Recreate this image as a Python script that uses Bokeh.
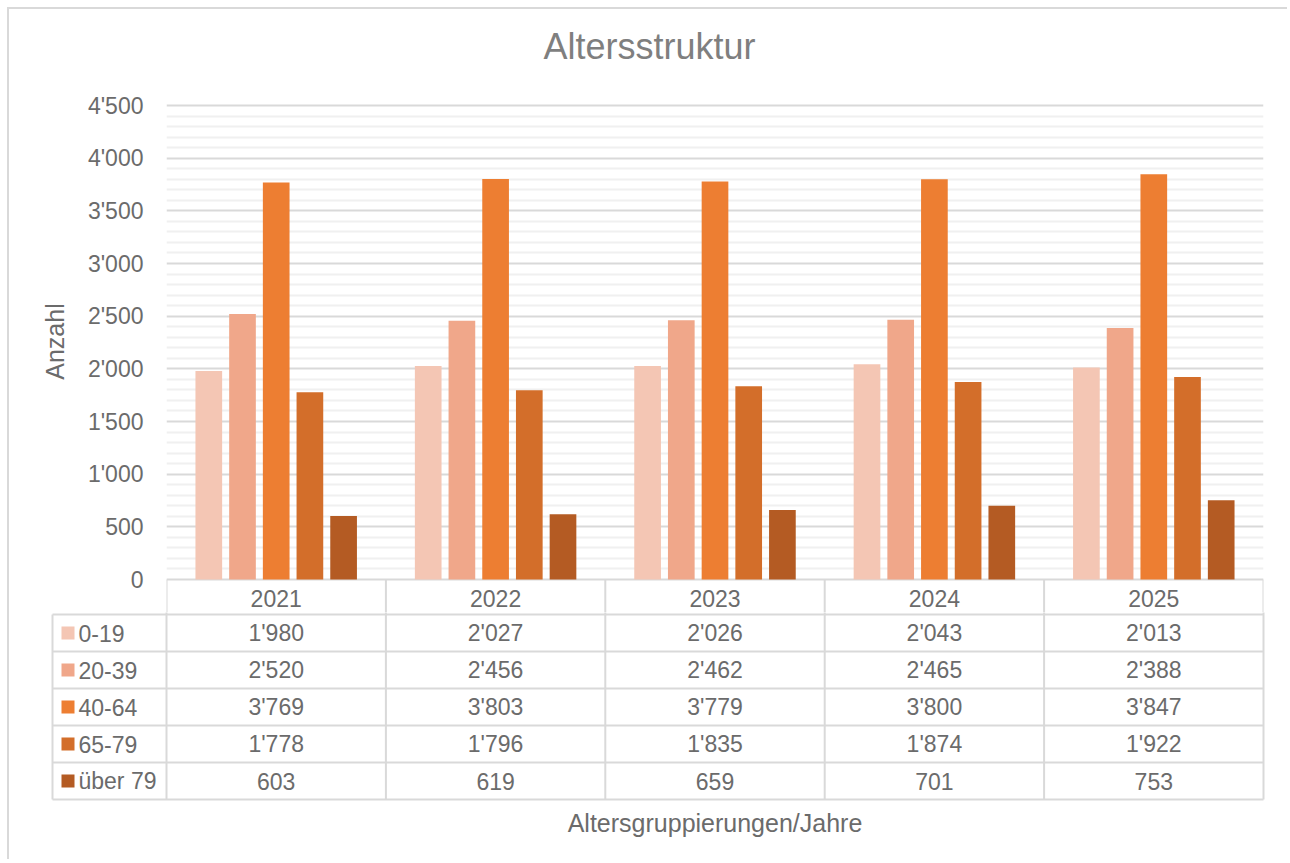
from bokeh.plotting import figure
from bokeh.models import Range1d, FactorRange, FixedTicker, Title, ColumnDataSource
from bokeh.transform import dodge
from bokeh.core.properties import value
from bokeh.embed import file_html
from bokeh.resources import INLINE

# ---------------- data ----------------
title = "Altersstruktur"
years = ["2021", "2022", "2023", "2024", "2025"]
groups = ["0-19", "20-39", "40-64", "65-79", "über 79"]
age_0_19 = [1980, 2027, 2026, 2043, 2013]
age_20_39 = [2520, 2456, 2462, 2465, 2388]
age_40_64 = [3769, 3803, 3779, 3800, 3847]
age_65_79 = [1778, 1796, 1835, 1874, 1922]
age_80_plus = [603, 619, 659, 701, 753]
series = [age_0_19, age_20_39, age_40_64, age_65_79, age_80_plus]
colors = ["#F4C6B4", "#F0A78A", "#ED7E32", "#D36E2A", "#B45B23"]
y_ticks = [0, 500, 1000, 1500, 2000, 2500, 3000, 3500, 4000, 4500]
y_tick_labels = ["0", "500", "1'000", "1'500", "2'000", "2'500", "3'000", "3'500", "4'000", "4'500"]
y_minor = [v for v in range(100, 4500, 100) if v % 500]

FONT = "Liberation Sans"
TXT = "#6b6b6b"
GRID = "#d9d9d9"
BORDER = "2px solid #d9d9d9"
W = 1280
UPX = 4500 / 474  # data units per pixel in the bar area
px = 219.4        # pixels per category column


def fmt(v):
    return f"{v:,}".replace(",", "'")


# ---------------- bar chart (with year header row) ----------------
top = figure(width=W, height=605,
             x_range=FactorRange(*years, range_padding=0),
             y_range=Range1d(-35 * UPX, 4500 + 37 * UPX),
             x_axis_location=None,
             output_backend="svg", toolbar_location=None,
             min_border_left=157, min_border_right=26,
             min_border_top=59, min_border_bottom=0,
             outline_line_color=None,
             styles={"margin": "7px 0 0 7px", "border-top": BORDER,
                     "border-left": BORDER})
top.title = Title(text=title, align="left", offset=377, standoff=4,
                  text_font=FONT, text_font_size="36px", text_font_style="normal",
                  text_color="#7f7f7f")

ticker = FixedTicker(ticks=y_ticks, minor_ticks=y_minor)
ax = top.yaxis[0]
ax.ticker = ticker
ax.major_label_overrides = dict(zip(y_ticks, y_tick_labels))
ax.axis_line_color = None
ax.major_tick_line_color = None
ax.minor_tick_line_color = None
ax.major_label_standoff = 17
ax.major_label_text_font = FONT
ax.major_label_text_font_size = "23px"
ax.major_label_text_color = TXT
ax.axis_label = "Anzahl"
ax.axis_label_text_font = FONT
ax.axis_label_text_font_size = "25px"
ax.axis_label_text_font_style = "normal"
ax.axis_label_text_color = TXT
ax.axis_label_standoff = 16

top.xgrid.visible = False
top.ygrid.ticker = ticker
top.ygrid.grid_line_color = GRID
top.ygrid.grid_line_width = 2
top.ygrid.minor_grid_line_color = "#f0f0f0"
top.ygrid.minor_grid_line_width = 2

src = ColumnDataSource(dict(year=years, **{f"s{k}": s for k, s in enumerate(series)}))
pitch = 0.1536
bw = 0.1216
for k, g in enumerate(groups):
    top.vbar(x=dodge("year", (k - 2) * pitch, range=top.x_range), top=f"s{k}",
             width=bw, source=src, fill_color=colors[k], line_color=None)

n = len(years)
m = len(groups)
# year header row: column separators and year labels
top.segment(x0=list(range(n + 1)), y0=[0] * (n + 1), x1=list(range(n + 1)),
            y1=[-40 * UPX] * (n + 1), line_color=GRID, line_width=2)
top.text(x=years, y=[-18.5 * UPX] * n, text=years,
         text_align="center", text_baseline="middle",
         text_font=value(FONT), text_font_size="23px", text_color=TXT)

# ---------------- data table ----------------
left = -114 / px
bot = figure(width=W, height=247,
             x_range=Range1d(left - 2 / px, 5 + 2 / px),
             y_range=Range1d(282 / 37, 35 / 37),
             x_axis_location=None, y_axis_location=None,
             output_backend="svg", toolbar_location=None,
             min_border_left=41, min_border_right=24,
             min_border_top=0, min_border_bottom=0,
             outline_line_color=None,
             styles={"margin": "0 0 0 7px", "border-left": BORDER})
bot.grid.visible = False

x0, y0, x1, y1 = [], [], [], []
for r in range(1, m + 2):
    x0.append(left); x1.append(n); y0.append(r); y1.append(r)
for c in range(n + 1):
    x0.append(c); x1.append(c); y0.append(0.5); y1.append(m + 1)
x0.append(left); x1.append(left); y0.append(1); y1.append(m + 1)
bot.segment(x0=x0, y0=y0, x1=x1, y1=y1, line_color=GRID, line_width=2)

tx, ty, tt = [], [], []
for k, s in enumerate(series):
    for i, v in enumerate(s):
        tx.append(i + 0.5); ty.append(k + 1.5); tt.append(fmt(v))
bot.text(x=tx, y=ty, text=tt, text_align="center", text_baseline="middle",
         text_font=value(FONT), text_font_size="23px", text_color=TXT)

bot.scatter(x=[left + 15.5 / px] * m, y=[k + 1.5 for k in range(m)], marker="square",
            size=13, fill_color=colors, line_color=None)
bot.text(x=[left + 26 / px] * m, y=[k + 1.5 for k in range(m)], text=groups,
         text_align="left", text_baseline="middle",
         text_font=value(FONT), text_font_size="23px", text_color=TXT)

bot.text(x=[n / 2], y=[m + 1 + 23 / 37], text=["Altersgruppierungen/Jahre"],
         text_align="center", text_baseline="middle",
         text_font=value(FONT), text_font_size="25px", text_color=TXT)

open("out.html", "w").write(file_html([top, bot], INLINE))
